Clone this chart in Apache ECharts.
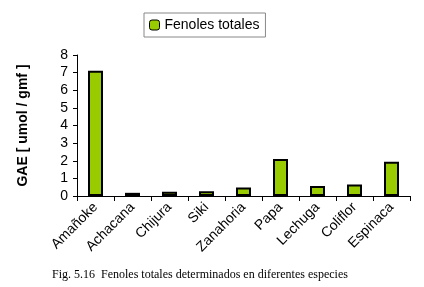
<!DOCTYPE html>
<html><head><meta charset="utf-8">
<script src="https://cdn.jsdelivr.net/npm/echarts@6/dist/echarts.min.js"></script>
<style>html,body{margin:0;padding:0;background:#fff}#c{width:424px;height:287px}</style>
</head><body><div id="c"></div>
<script>
var categories = ["Amañoke","Achacana","Chijura","Siki","Zanahoria","Papa","Lechuga","Coliflor","Espinaca"];
var values = [7.1, 0.18, 0.24, 0.27, 0.48, 2.1, 0.57, 0.65, 1.95];
var yTicks = [0,1,2,3,4,5,6,7,8];
var seriesName = "Fenoles totales";
var yTitle = "GAE [ umol / gmf ]";
var caption = "Fig. 5.16  Fenoles totales determinados en diferentes especies";

var chart = echarts.init(document.getElementById('c'));
chart.setOption({
  animation:false,
  backgroundColor:'#fff',
  legend:{
    data:[seriesName], top:13, left:144,
    itemWidth:10, itemHeight:10, itemGap:5,
    padding:[5,6,5,5],
    borderColor:'#888', borderWidth:1,
    textStyle:{fontFamily:'Liberation Sans, Arial', fontSize:14, color:'#000'},
    itemStyle:{borderColor:'#000', borderWidth:1}
  },
  grid:{left:77, right:14, top:55, bottom:91},
  title:{
    text:caption, left:47, top:264,
    textStyle:{fontFamily:'Liberation Serif, Times New Roman', fontSize:12, fontWeight:'normal', color:'#000'}
  },
  xAxis:{
    type:'category', data:categories,
    axisLine:{lineStyle:{color:'#000', width:1}},
    axisTick:{show:true, length:5, lineStyle:{color:'#000'}},
    axisLabel:{rotate:45, fontFamily:'Liberation Sans, Arial', fontSize:14, color:'#000', margin:9}
  },
  yAxis:{
    type:'value', min:yTicks[0], max:yTicks[yTicks.length-1], interval:1,
    name:yTitle, nameLocation:'middle', nameGap:47,
    nameTextStyle:{fontFamily:'Liberation Sans, Arial', fontSize:14, fontWeight:'bold', color:'#000'},
    axisLine:{show:true, lineStyle:{color:'#000'}},
    axisTick:{show:true, length:4, lineStyle:{color:'#000'}},
    splitLine:{show:false},
    axisLabel:{fontFamily:'Liberation Sans, Arial', fontSize:14, color:'#000', margin:9}
  },
  series:[{
    name:seriesName, type:'bar', data:values, barWidth:15,
    itemStyle:{color:'#99CC00', borderColor:'#000', borderWidth:2}
  }]
});
</script></body></html>
